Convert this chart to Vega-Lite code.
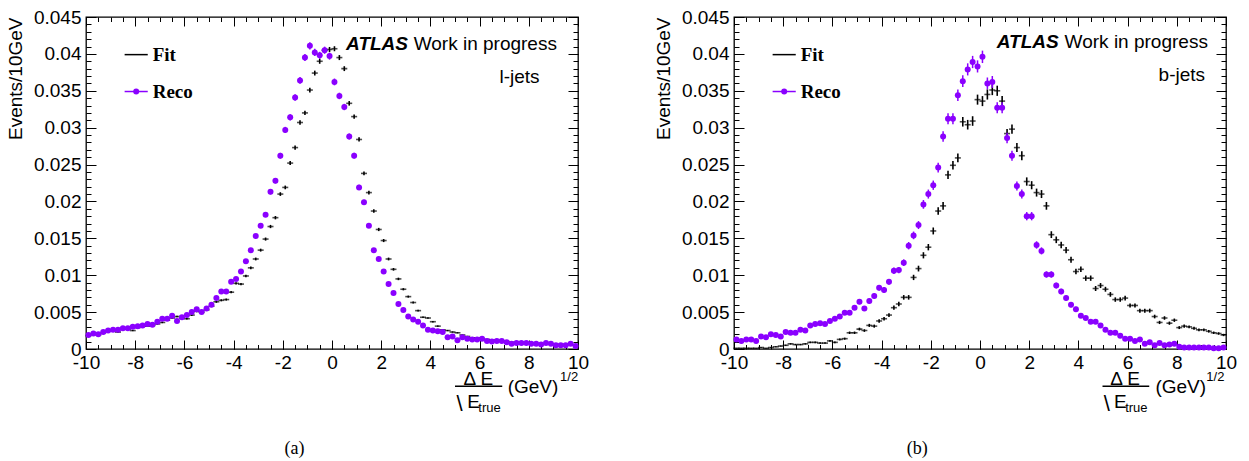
{
  "$schema": "https://vega.github.io/schema/vega-lite/v6.json",
  "background": "white",
  "padding": {"left": 5, "top": 7, "right": 5, "bottom": 0},
  "config": {
    "view": {"stroke": "black", "strokeWidth": 1.3},
    "axis": {"grid": false, "domain": false, "labelFont": "Liberation Sans", "labelFontSize": 19, "labelColor": "#000", "tickColor": "#000", "tickWidth": 1, "titleFont": "Liberation Sans", "titleFontSize": 19, "titleFontWeight": "normal", "titleColor": "#000"},
    "text": {"font": "Liberation Sans", "fontSize": 19, "color": "#000"}
  },
  "datasets": {
    "l": [
      {"x":-9.9,"f":0.0018,"fe":0.00007,"r":0.0019,"re":0.0001},
      {"x":-9.7,"f":0.0020,"fe":0.00008,"r":0.0021,"re":0.00011},
      {"x":-9.5,"f":0.0019,"fe":0.00007,"r":0.0020,"re":0.00011},
      {"x":-9.3,"f":0.0022,"fe":0.00008,"r":0.0023,"re":0.00012},
      {"x":-9.1,"f":0.0025,"fe":0.00008,"r":0.0025,"re":0.00012},
      {"x":-8.9,"f":0.0025,"fe":0.00008,"r":0.0026,"re":0.00012},
      {"x":-8.7,"f":0.0023,"fe":0.00008,"r":0.0026,"re":0.00012},
      {"x":-8.5,"f":0.0027,"fe":0.00009,"r":0.0028,"re":0.00013},
      {"x":-8.3,"f":0.0027,"fe":0.00009,"r":0.0028,"re":0.00013},
      {"x":-8.1,"f":0.0025,"fe":0.00008,"r":0.0030,"re":0.00013},
      {"x":-7.9,"f":0.0029,"fe":0.00009,"r":0.0031,"re":0.00013},
      {"x":-7.7,"f":0.0031,"fe":0.00009,"r":0.0032,"re":0.00014},
      {"x":-7.5,"f":0.0031,"fe":0.00009,"r":0.0034,"re":0.00014},
      {"x":-7.3,"f":0.0032,"fe":0.0001,"r":0.0033,"re":0.00014},
      {"x":-7.1,"f":0.0034,"fe":0.0001,"r":0.0037,"re":0.00015},
      {"x":-6.9,"f":0.0036,"fe":0.0001,"r":0.0041,"re":0.00015},
      {"x":-6.7,"f":0.0039,"fe":0.00011,"r":0.0041,"re":0.00015},
      {"x":-6.5,"f":0.0042,"fe":0.00011,"r":0.0045,"re":0.00016},
      {"x":-6.3,"f":0.0044,"fe":0.00011,"r":0.0038,"re":0.00015},
      {"x":-6.1,"f":0.0042,"fe":0.00011,"r":0.0043,"re":0.00016},
      {"x":-5.9,"f":0.0041,"fe":0.00011,"r":0.0046,"re":0.00016},
      {"x":-5.7,"f":0.0046,"fe":0.00012,"r":0.0050,"re":0.00017},
      {"x":-5.5,"f":0.0051,"fe":0.00012,"r":0.0054,"re":0.00018},
      {"x":-5.3,"f":0.0050,"fe":0.00012,"r":0.0050,"re":0.00017},
      {"x":-5.1,"f":0.0053,"fe":0.00012,"r":0.0055,"re":0.00018},
      {"x":-4.9,"f":0.0058,"fe":0.00013,"r":0.0060,"re":0.00019},
      {"x":-4.7,"f":0.0064,"fe":0.00014,"r":0.0069,"re":0.0002},
      {"x":-4.5,"f":0.0066,"fe":0.00014,"r":0.0078,"re":0.00021},
      {"x":-4.3,"f":0.0067,"fe":0.00014,"r":0.0078,"re":0.00021},
      {"x":-4.1,"f":0.0077,"fe":0.00015,"r":0.0091,"re":0.00023},
      {"x":-3.9,"f":0.0089,"fe":0.00016,"r":0.0095,"re":0.00023},
      {"x":-3.7,"f":0.0088,"fe":0.00016,"r":0.0105,"re":0.00025},
      {"x":-3.5,"f":0.0099,"fe":0.00017,"r":0.0119,"re":0.00026},
      {"x":-3.3,"f":0.0110,"fe":0.00018,"r":0.0134,"re":0.00028},
      {"x":-3.1,"f":0.0122,"fe":0.00019,"r":0.0153,"re":0.0003},
      {"x":-2.9,"f":0.0134,"fe":0.0002,"r":0.0167,"re":0.00031},
      {"x":-2.7,"f":0.0149,"fe":0.00021,"r":0.0182,"re":0.00032},
      {"x":-2.5,"f":0.0166,"fe":0.00022,"r":0.0213,"re":0.00035},
      {"x":-2.3,"f":0.0178,"fe":0.00023,"r":0.0228,"re":0.00036},
      {"x":-2.1,"f":0.0210,"fe":0.00025,"r":0.0262,"re":0.00039},
      {"x":-1.9,"f":0.0219,"fe":0.00025,"r":0.0297,"re":0.00041},
      {"x":-1.7,"f":0.0252,"fe":0.00027,"r":0.0314,"re":0.00043},
      {"x":-1.5,"f":0.0273,"fe":0.00028,"r":0.0341,"re":0.00044},
      {"x":-1.3,"f":0.0307,"fe":0.0003,"r":0.0364,"re":0.00046},
      {"x":-1.1,"f":0.0320,"fe":0.0003,"r":0.0395,"re":0.00048},
      {"x":-0.9,"f":0.0351,"fe":0.00032,"r":0.0411,"re":0.00049},
      {"x":-0.7,"f":0.0374,"fe":0.00033,"r":0.0402,"re":0.00048},
      {"x":-0.5,"f":0.0390,"fe":0.00034,"r":0.0398,"re":0.00048},
      {"x":-0.3,"f":0.0405,"fe":0.00034,"r":0.0405,"re":0.00048},
      {"x":-0.1,"f":0.0406,"fe":0.00034,"r":0.0397,"re":0.00048},
      {"x":0.1,"f":0.0407,"fe":0.00034,"r":0.0362,"re":0.00046},
      {"x":0.3,"f":0.0395,"fe":0.00034,"r":0.0343,"re":0.00044},
      {"x":0.5,"f":0.0380,"fe":0.00033,"r":0.0328,"re":0.00043},
      {"x":0.7,"f":0.0333,"fe":0.00031,"r":0.0288,"re":0.00041},
      {"x":0.9,"f":0.0315,"fe":0.0003,"r":0.0262,"re":0.00039},
      {"x":1.1,"f":0.0284,"fe":0.00029,"r":0.0219,"re":0.00036},
      {"x":1.3,"f":0.0238,"fe":0.00026,"r":0.0199,"re":0.00034},
      {"x":1.5,"f":0.0212,"fe":0.00025,"r":0.0167,"re":0.00031},
      {"x":1.7,"f":0.0187,"fe":0.00023,"r":0.0134,"re":0.00028},
      {"x":1.9,"f":0.0162,"fe":0.00022,"r":0.0122,"re":0.00027},
      {"x":2.1,"f":0.0147,"fe":0.00021,"r":0.0105,"re":0.00025},
      {"x":2.3,"f":0.0122,"fe":0.00019,"r":0.0088,"re":0.00023},
      {"x":2.5,"f":0.0108,"fe":0.00018,"r":0.0076,"re":0.00021},
      {"x":2.7,"f":0.0095,"fe":0.00017,"r":0.0061,"re":0.00019},
      {"x":2.9,"f":0.0081,"fe":0.00015,"r":0.0053,"re":0.00017},
      {"x":3.1,"f":0.0071,"fe":0.00014,"r":0.0044,"re":0.00016},
      {"x":3.3,"f":0.0063,"fe":0.00013,"r":0.0040,"re":0.00015},
      {"x":3.5,"f":0.0052,"fe":0.00012,"r":0.0037,"re":0.00015},
      {"x":3.7,"f":0.0043,"fe":0.00011,"r":0.0032,"re":0.00014},
      {"x":3.9,"f":0.0042,"fe":0.00011,"r":0.0026,"re":0.00012},
      {"x":4.1,"f":0.0037,"fe":0.0001,"r":0.0025,"re":0.00012},
      {"x":4.3,"f":0.0031,"fe":0.00009,"r":0.0024,"re":0.00012},
      {"x":4.5,"f":0.0026,"fe":0.00009,"r":0.0023,"re":0.00012},
      {"x":4.7,"f":0.0025,"fe":0.00008,"r":0.0016,"re":0.0001},
      {"x":4.9,"f":0.0023,"fe":0.00008,"r":0.0017,"re":0.0001},
      {"x":5.1,"f":0.0022,"fe":0.00008,"r":0.0012,"re":0.00008},
      {"x":5.3,"f":0.0019,"fe":0.00007,"r":0.0016,"re":0.0001},
      {"x":5.5,"f":0.0017,"fe":0.00007,"r":0.0014,"re":0.00009},
      {"x":5.7,"f":0.0015,"fe":0.00007,"r":0.0013,"re":0.00009},
      {"x":5.9,"f":0.0015,"fe":0.00007,"r":0.0013,"re":0.00009},
      {"x":6.1,"f":0.0014,"fe":0.00006,"r":0.0014,"re":0.00009},
      {"x":6.3,"f":0.0013,"fe":0.00006,"r":0.0011,"re":0.00008},
      {"x":6.5,"f":0.0012,"fe":0.00006,"r":0.0010,"re":0.00008},
      {"x":6.7,"f":0.0012,"fe":0.00006,"r":0.0011,"re":0.00008},
      {"x":6.9,"f":0.0011,"fe":0.00006,"r":0.0011,"re":0.00008},
      {"x":7.1,"f":0.0010,"fe":0.00005,"r":0.0009,"re":0.00007},
      {"x":7.3,"f":0.0009,"fe":0.00005,"r":0.0007,"re":0.00006},
      {"x":7.5,"f":0.0009,"fe":0.00005,"r":0.0008,"re":0.00007},
      {"x":7.7,"f":0.0009,"fe":0.00005,"r":0.0008,"re":0.00007},
      {"x":7.9,"f":0.0008,"fe":0.00005,"r":0.0008,"re":0.00007},
      {"x":8.1,"f":0.0008,"fe":0.00005,"r":0.0007,"re":0.00006},
      {"x":8.3,"f":0.0007,"fe":0.00004,"r":0.0007,"re":0.00006},
      {"x":8.5,"f":0.0007,"fe":0.00004,"r":0.0006,"re":0.00006},
      {"x":8.7,"f":0.0007,"fe":0.00004,"r":0.0008,"re":0.00007},
      {"x":8.9,"f":0.0007,"fe":0.00004,"r":0.0007,"re":0.00006},
      {"x":9.1,"f":0.0006,"fe":0.00004,"r":0.0005,"re":0.00005},
      {"x":9.3,"f":0.0006,"fe":0.00004,"r":0.0005,"re":0.00005},
      {"x":9.5,"f":0.0006,"fe":0.00004,"r":0.0005,"re":0.00005},
      {"x":9.7,"f":0.0006,"fe":0.00004,"r":0.0007,"re":0.00006},
      {"x":9.9,"f":0.0005,"fe":0.00004,"r":0.0004,"re":0.00005}
    ],
    "b": [
      {"x":-9.9,"f":0.0001,"fe":0.00004,"r":0.0013,"re":0.00015},
      {"x":-9.7,"f":0.0001,"fe":0.00004,"r":0.0011,"re":0.00014},
      {"x":-9.5,"f":0.0001,"fe":0.00004,"r":0.0013,"re":0.00015},
      {"x":-9.3,"f":0.0001,"fe":0.00004,"r":0.0013,"re":0.00015},
      {"x":-9.1,"f":0.0001,"fe":0.00004,"r":0.0011,"re":0.00014},
      {"x":-8.9,"f":0.0002,"fe":0.00005,"r":0.0017,"re":0.00017},
      {"x":-8.7,"f":0.0001,"fe":0.00004,"r":0.0016,"re":0.00017},
      {"x":-8.5,"f":0.0002,"fe":0.00005,"r":0.0020,"re":0.00019},
      {"x":-8.3,"f":0.0003,"fe":0.00006,"r":0.0019,"re":0.00018},
      {"x":-8.1,"f":0.0004,"fe":0.00007,"r":0.0017,"re":0.00017},
      {"x":-7.9,"f":0.0005,"fe":0.00008,"r":0.0023,"re":0.0002},
      {"x":-7.7,"f":0.0007,"fe":0.0001,"r":0.0022,"re":0.0002},
      {"x":-7.5,"f":0.0006,"fe":0.00009,"r":0.0022,"re":0.0002},
      {"x":-7.3,"f":0.0006,"fe":0.00009,"r":0.0026,"re":0.00021},
      {"x":-7.1,"f":0.0007,"fe":0.0001,"r":0.0025,"re":0.00021},
      {"x":-6.9,"f":0.0009,"fe":0.00011,"r":0.0032,"re":0.00024},
      {"x":-6.7,"f":0.0009,"fe":0.00011,"r":0.0034,"re":0.00024},
      {"x":-6.5,"f":0.0008,"fe":0.0001,"r":0.0035,"re":0.00025},
      {"x":-6.3,"f":0.0008,"fe":0.0001,"r":0.0034,"re":0.00024},
      {"x":-6.1,"f":0.0011,"fe":0.00012,"r":0.0038,"re":0.00026},
      {"x":-5.9,"f":0.0009,"fe":0.00011,"r":0.0041,"re":0.00027},
      {"x":-5.7,"f":0.0013,"fe":0.00013,"r":0.0044,"re":0.00028},
      {"x":-5.5,"f":0.0014,"fe":0.00014,"r":0.0049,"re":0.00029},
      {"x":-5.3,"f":0.0022,"fe":0.00017,"r":0.0049,"re":0.00029},
      {"x":-5.1,"f":0.0022,"fe":0.00017,"r":0.0056,"re":0.00031},
      {"x":-4.9,"f":0.0027,"fe":0.00019,"r":0.0064,"re":0.00034},
      {"x":-4.7,"f":0.0025,"fe":0.00018,"r":0.0055,"re":0.00031},
      {"x":-4.5,"f":0.0032,"fe":0.00021,"r":0.0065,"re":0.00034},
      {"x":-4.3,"f":0.0031,"fe":0.00021,"r":0.0072,"re":0.00036},
      {"x":-4.1,"f":0.0038,"fe":0.00023,"r":0.0083,"re":0.00038},
      {"x":-3.9,"f":0.0041,"fe":0.00024,"r":0.0080,"re":0.00038},
      {"x":-3.7,"f":0.0046,"fe":0.00025,"r":0.0091,"re":0.0004},
      {"x":-3.5,"f":0.0056,"fe":0.00028,"r":0.0106,"re":0.00043},
      {"x":-3.3,"f":0.0061,"fe":0.00029,"r":0.0107,"re":0.00043},
      {"x":-3.1,"f":0.0070,"fe":0.00031,"r":0.0117,"re":0.00045},
      {"x":-2.9,"f":0.0070,"fe":0.00031,"r":0.0140,"re":0.0005},
      {"x":-2.7,"f":0.0097,"fe":0.00036,"r":0.0154,"re":0.00052},
      {"x":-2.5,"f":0.0109,"fe":0.00039,"r":0.0168,"re":0.00054},
      {"x":-2.3,"f":0.0127,"fe":0.00042,"r":0.0196,"re":0.00059},
      {"x":-2.1,"f":0.0138,"fe":0.00043,"r":0.0210,"re":0.00061},
      {"x":-1.9,"f":0.0160,"fe":0.00047,"r":0.0222,"re":0.00063},
      {"x":-1.7,"f":0.0187,"fe":0.0005,"r":0.0246,"re":0.00066},
      {"x":-1.5,"f":0.0194,"fe":0.00052,"r":0.0288,"re":0.00071},
      {"x":-1.3,"f":0.0236,"fe":0.00057,"r":0.0312,"re":0.00074},
      {"x":-1.1,"f":0.0249,"fe":0.00058,"r":0.0312,"re":0.00074},
      {"x":-0.9,"f":0.0259,"fe":0.0006,"r":0.0344,"re":0.00078},
      {"x":-0.7,"f":0.0308,"fe":0.00065,"r":0.0363,"re":0.0008},
      {"x":-0.5,"f":0.0304,"fe":0.00065,"r":0.0379,"re":0.00082},
      {"x":-0.3,"f":0.0309,"fe":0.00065,"r":0.0389,"re":0.00083},
      {"x":-0.1,"f":0.0338,"fe":0.00068,"r":0.0383,"re":0.00082},
      {"x":0.1,"f":0.0336,"fe":0.00068,"r":0.0396,"re":0.00084},
      {"x":0.3,"f":0.0345,"fe":0.00069,"r":0.0360,"re":0.0008},
      {"x":0.5,"f":0.0351,"fe":0.00069,"r":0.0362,"re":0.0008},
      {"x":0.7,"f":0.0350,"fe":0.00069,"r":0.0327,"re":0.00076},
      {"x":0.9,"f":0.0336,"fe":0.00068,"r":0.0327,"re":0.00076},
      {"x":1.1,"f":0.0292,"fe":0.00063,"r":0.0286,"re":0.00071},
      {"x":1.3,"f":0.0298,"fe":0.00064,"r":0.0262,"re":0.00068},
      {"x":1.5,"f":0.0273,"fe":0.00061,"r":0.0221,"re":0.00062},
      {"x":1.7,"f":0.0262,"fe":0.0006,"r":0.0210,"re":0.00061},
      {"x":1.9,"f":0.0227,"fe":0.00056,"r":0.0180,"re":0.00056},
      {"x":2.1,"f":0.0222,"fe":0.00055,"r":0.0180,"re":0.00056},
      {"x":2.3,"f":0.0212,"fe":0.00054,"r":0.0141,"re":0.0005},
      {"x":2.5,"f":0.0210,"fe":0.00054,"r":0.0133,"re":0.00048},
      {"x":2.7,"f":0.0194,"fe":0.00052,"r":0.0101,"re":0.00042},
      {"x":2.9,"f":0.0155,"fe":0.00046,"r":0.0101,"re":0.00042},
      {"x":3.1,"f":0.0148,"fe":0.00045,"r":0.0086,"re":0.00039},
      {"x":3.3,"f":0.0141,"fe":0.00044,"r":0.0078,"re":0.00037},
      {"x":3.5,"f":0.0134,"fe":0.00043,"r":0.0069,"re":0.00035},
      {"x":3.7,"f":0.0121,"fe":0.00041,"r":0.0060,"re":0.00033},
      {"x":3.9,"f":0.0105,"fe":0.00038,"r":0.0054,"re":0.00031},
      {"x":4.1,"f":0.0108,"fe":0.00038,"r":0.0045,"re":0.00028},
      {"x":4.3,"f":0.0096,"fe":0.00036,"r":0.0042,"re":0.00027},
      {"x":4.5,"f":0.0096,"fe":0.00036,"r":0.0037,"re":0.00026},
      {"x":4.7,"f":0.0082,"fe":0.00034,"r":0.0037,"re":0.00026},
      {"x":4.9,"f":0.0086,"fe":0.00034,"r":0.0032,"re":0.00024},
      {"x":5.1,"f":0.0081,"fe":0.00033,"r":0.0026,"re":0.00021},
      {"x":5.3,"f":0.0074,"fe":0.00032,"r":0.0022,"re":0.0002},
      {"x":5.5,"f":0.0067,"fe":0.0003,"r":0.0022,"re":0.0002},
      {"x":5.7,"f":0.0067,"fe":0.0003,"r":0.0018,"re":0.00018},
      {"x":5.9,"f":0.0069,"fe":0.00031,"r":0.0014,"re":0.00016},
      {"x":6.1,"f":0.0059,"fe":0.00028,"r":0.0014,"re":0.00016},
      {"x":6.3,"f":0.0059,"fe":0.00028,"r":0.0011,"re":0.00014},
      {"x":6.5,"f":0.0052,"fe":0.00027,"r":0.0013,"re":0.00015},
      {"x":6.7,"f":0.0052,"fe":0.00027,"r":0.0007,"re":0.00011},
      {"x":6.9,"f":0.0052,"fe":0.00027,"r":0.0009,"re":0.00013},
      {"x":7.1,"f":0.0044,"fe":0.00025,"r":0.0005,"re":0.00009},
      {"x":7.3,"f":0.0036,"fe":0.00022,"r":0.0008,"re":0.00012},
      {"x":7.5,"f":0.0042,"fe":0.00024,"r":0.0005,"re":0.00009},
      {"x":7.7,"f":0.0035,"fe":0.00022,"r":0.0006,"re":0.0001},
      {"x":7.9,"f":0.0039,"fe":0.00023,"r":0.0007,"re":0.00011},
      {"x":8.1,"f":0.0029,"fe":0.0002,"r":0.0003,"re":0.00007},
      {"x":8.3,"f":0.0031,"fe":0.00021,"r":0.0002,"re":0.00006},
      {"x":8.5,"f":0.0030,"fe":0.0002,"r":0.0002,"re":0.00006},
      {"x":8.7,"f":0.0028,"fe":0.0002,"r":0.0002,"re":0.00006},
      {"x":8.9,"f":0.0026,"fe":0.00019,"r":0.0002,"re":0.00006},
      {"x":9.1,"f":0.0026,"fe":0.00019,"r":0.0002,"re":0.00006},
      {"x":9.3,"f":0.0024,"fe":0.00018,"r":0.0002,"re":0.00006},
      {"x":9.5,"f":0.0022,"fe":0.00017,"r":0.0001,"re":0.00004},
      {"x":9.7,"f":0.0021,"fe":0.00017,"r":0.0001,"re":0.00004},
      {"x":9.9,"f":0.0019,"fe":0.00016,"r":0.0002,"re":0.00006}
    ]
  },
  "spacing": 156,
  "bounds": "flush",
  "hconcat": [
    {
      "width": 492, "height": 332,
      "resolve": {"axis": {"x": "independent", "y": "independent"}},
      "layer": [
        {"data": {"name": "l"}, "mark": {"type": "tick", "orient": "horizontal", "size": 6, "thickness": 1.6, "color": "#000"},
         "encoding": {
           "x": {"field": "x", "type": "quantitative", "scale": {"domain": [-10, 10], "nice": false, "zero": false}, "axis": {"orient": "bottom", "values": [-10,-8,-6,-4,-2,0,2,4,6,8,10], "labels": false, "ticks": true, "tickSize": -9, "title": null}},
           "y": {"field": "f", "type": "quantitative", "scale": {"domain": [0, 0.045], "nice": false, "zero": false}, "axis": {"orient": "left", "values": [0,0.005,0.01,0.015,0.02,0.025,0.03,0.035,0.04,0.045], "labels": false, "ticks": true, "tickSize": -10, "title": null}}}},
        {"data": {"name": "l"}, "mark": {"type": "errorbar", "color": "#000", "thickness": 1.6},
         "encoding": {"x": {"field": "x", "type": "quantitative", "axis": null}, "y": {"field": "f", "type": "quantitative", "axis": null}, "yError": {"field": "fe"}}},
        {"data": {"name": "l"}, "mark": {"type": "errorbar", "color": "#8a00ff", "thickness": 1.5},
         "encoding": {"x": {"field": "x", "type": "quantitative", "axis": null}, "y": {"field": "r", "type": "quantitative", "axis": null}, "yError": {"field": "re"}}},
        {"data": {"name": "l"}, "mark": {"type": "circle", "color": "#8a00ff", "size": 36, "opacity": 1},
         "encoding": {
           "x": {"field": "x", "type": "quantitative", "axis": {"orient": "bottom", "values": [-10,-8,-6,-4,-2,0,2,4,6,8,10], "ticks": false, "labelPadding": 4, "labelFlush": false, "labelOverlap": false, "labelExpr": "'' + datum.value", "title": null}},
           "y": {"field": "r", "type": "quantitative", "axis": {"orient": "left", "values": [0,0.005,0.01,0.015,0.02,0.025,0.03,0.035,0.04,0.045], "ticks": false, "labelPadding": 5, "labelFlush": false, "labelOverlap": false, "labelExpr": "'' + datum.value", "title": "Events/10GeV", "titleAnchor": "end", "titlePadding": 8}}}},
        {"data": {"values": [{}]}, "mark": {"type": "rule", "color": "#000", "strokeWidth": 1.5},
         "encoding": {
           "x": {"datum": -8.43, "type": "quantitative", "axis": {"orient": "bottom", "values": [-10,-9.5,-9,-8.5,-8,-7.5,-7,-6.5,-6,-5.5,-5,-4.5,-4,-3.5,-3,-2.5,-2,-1.5,-1,-0.5,0,0.5,1,1.5,2,2.5,3,3.5,4,4.5,5,5.5,6,6.5,7,7.5,8,8.5,9,9.5,10], "labels": false, "ticks": true, "tickSize": -4.5, "title": null}},
           "x2": {"datum": -7.49},
           "y": {"datum": 0.0399, "type": "quantitative", "axis": {"orient": "left", "values": [0,0.001,0.002,0.003,0.004,0.005,0.006,0.007,0.008,0.009,0.01,0.011,0.012,0.013,0.014,0.015,0.016,0.017,0.018,0.019,0.02,0.021,0.022,0.023,0.024,0.025,0.026,0.027,0.028,0.029,0.03,0.031,0.032,0.033,0.034,0.035,0.036,0.037,0.038,0.039,0.04,0.041,0.042,0.043,0.044,0.045], "labels": false, "ticks": true, "tickSize": -5, "title": null}}}},
        {"data": {"values": [{}]}, "mark": {"type": "rule", "color": "#8a00ff", "strokeWidth": 1.5},
         "encoding": {
           "x": {"datum": -8.43, "type": "quantitative", "axis": {"orient": "top", "values": [-10,-8,-6,-4,-2,0,2,4,6,8,10], "labels": false, "ticks": true, "tickSize": -9, "title": null}},
           "x2": {"datum": -7.49},
           "y": {"datum": 0.0349, "type": "quantitative", "axis": {"orient": "right", "values": [0,0.005,0.01,0.015,0.02,0.025,0.03,0.035,0.04,0.045], "labels": false, "ticks": true, "tickSize": -10, "title": null}}}},
        {"data": {"values": [{}]}, "mark": {"type": "circle", "color": "#8a00ff", "size": 36, "opacity": 1},
         "encoding": {
           "x": {"datum": -7.96, "type": "quantitative", "axis": {"orient": "top", "values": [-10,-9.5,-9,-8.5,-8,-7.5,-7,-6.5,-6,-5.5,-5,-4.5,-4,-3.5,-3,-2.5,-2,-1.5,-1,-0.5,0,0.5,1,1.5,2,2.5,3,3.5,4,4.5,5,5.5,6,6.5,7,7.5,8,8.5,9,9.5,10], "labels": false, "ticks": true, "tickSize": -4.5, "title": null}},
           "y": {"datum": 0.0349, "type": "quantitative", "axis": {"orient": "right", "values": [0,0.001,0.002,0.003,0.004,0.005,0.006,0.007,0.008,0.009,0.01,0.011,0.012,0.013,0.014,0.015,0.016,0.017,0.018,0.019,0.02,0.021,0.022,0.023,0.024,0.025,0.026,0.027,0.028,0.029,0.03,0.031,0.032,0.033,0.034,0.035,0.036,0.037,0.038,0.039,0.04,0.041,0.042,0.043,0.044,0.045], "labels": false, "ticks": true, "tickSize": -5, "title": null}}}},
        {"data": {"values": [{}]}, "mark": {"type": "text", "text": "Fit", "align": "left", "baseline": "middle", "font": "Liberation Serif", "fontWeight": "bold", "fontSize": 19},
         "encoding": {"x": {"datum": -7.29, "type": "quantitative", "axis": null}, "y": {"datum": 0.0399, "type": "quantitative", "axis": null}}},
        {"data": {"values": [{}]}, "mark": {"type": "text", "text": "Reco", "align": "left", "baseline": "middle", "font": "Liberation Serif", "fontWeight": "bold", "fontSize": 19},
         "encoding": {"x": {"datum": -7.29, "type": "quantitative", "axis": null}, "y": {"datum": 0.0349, "type": "quantitative", "axis": null}}},
        {"data": {"values": [{}]}, "mark": {"type": "text", "text": "ATLAS", "align": "right", "baseline": "middle", "fontWeight": "bold", "fontStyle": "italic"},
         "encoding": {"x": {"datum": 3.09, "type": "quantitative", "axis": null}, "y": {"datum": 0.0413, "type": "quantitative", "axis": null}}},
        {"data": {"values": [{}]}, "mark": {"type": "text", "text": "Work in progress", "align": "left", "baseline": "middle"},
         "encoding": {"x": {"datum": 3.32, "type": "quantitative", "axis": null}, "y": {"datum": 0.0413, "type": "quantitative", "axis": null}}},
        {"data": {"values": [{}]}, "mark": {"type": "text", "text": "l-jets", "align": "right", "baseline": "middle"},
         "encoding": {"x": {"datum": 8.44, "type": "quantitative", "axis": null}, "y": {"datum": 0.0368, "type": "quantitative", "axis": null}}},
        {"data": {"values": [{}]}, "mark": {"type": "text", "text": "Δ E", "align": "center", "baseline": "middle"},
         "encoding": {"x": {"datum": 5.95, "type": "quantitative", "axis": null}, "y": {"datum": -0.0041, "type": "quantitative", "axis": null}}},
        {"data": {"values": [{}]}, "mark": {"type": "rule", "color": "#000", "strokeWidth": 1.5},
         "encoding": {"x": {"datum": 5.0, "type": "quantitative", "axis": null}, "x2": {"datum": 6.92}, "y": {"datum": -0.00505, "type": "quantitative", "axis": null}}},
        {"data": {"values": [{}]}, "mark": {"type": "text", "text": "\\", "align": "center", "baseline": "middle", "fontSize": 22},
         "encoding": {"x": {"datum": 5.19, "type": "quantitative", "axis": null}, "y": {"datum": -0.0074, "type": "quantitative", "axis": null}}},
        {"data": {"values": [{}]}, "mark": {"type": "text", "text": "E", "align": "left", "baseline": "middle"},
         "encoding": {"x": {"datum": 5.5, "type": "quantitative", "axis": null}, "y": {"datum": -0.0072, "type": "quantitative", "axis": null}}},
        {"data": {"values": [{}]}, "mark": {"type": "text", "text": "true", "align": "left", "baseline": "middle", "fontSize": 13},
         "encoding": {"x": {"datum": 5.95, "type": "quantitative", "axis": null}, "y": {"datum": -0.008, "type": "quantitative", "axis": null}}},
        {"data": {"values": [{}]}, "mark": {"type": "text", "text": "(GeV)", "align": "left", "baseline": "middle"},
         "encoding": {"x": {"datum": 7.14, "type": "quantitative", "axis": null}, "y": {"datum": -0.0052, "type": "quantitative", "axis": null}}},
        {"data": {"values": [{}]}, "mark": {"type": "text", "text": "1/2", "align": "left", "baseline": "middle", "fontSize": 13},
         "encoding": {"x": {"datum": 9.27, "type": "quantitative", "axis": null}, "y": {"datum": -0.0038, "type": "quantitative", "axis": null}}},
        {"data": {"values": [{}]}, "mark": {"type": "text", "text": "(a)", "align": "center", "baseline": "middle", "font": "Liberation Serif", "fontSize": 18},
         "encoding": {"x": {"datum": -1.52, "type": "quantitative", "axis": null}, "y": {"datum": -0.0136, "type": "quantitative", "axis": null}}}
      ]
    },
    {
      "width": 492, "height": 332,
      "resolve": {"axis": {"x": "independent", "y": "independent"}},
      "layer": [
        {"data": {"name": "b"}, "mark": {"type": "tick", "orient": "horizontal", "size": 6, "thickness": 1.6, "color": "#000"},
         "encoding": {
           "x": {"field": "x", "type": "quantitative", "scale": {"domain": [-10, 10], "nice": false, "zero": false}, "axis": {"orient": "bottom", "values": [-10,-8,-6,-4,-2,0,2,4,6,8,10], "labels": false, "ticks": true, "tickSize": -9, "title": null}},
           "y": {"field": "f", "type": "quantitative", "scale": {"domain": [0, 0.045], "nice": false, "zero": false}, "axis": {"orient": "left", "values": [0,0.005,0.01,0.015,0.02,0.025,0.03,0.035,0.04,0.045], "labels": false, "ticks": true, "tickSize": -10, "title": null}}}},
        {"data": {"name": "b"}, "mark": {"type": "errorbar", "color": "#000", "thickness": 1.6},
         "encoding": {"x": {"field": "x", "type": "quantitative", "axis": null}, "y": {"field": "f", "type": "quantitative", "axis": null}, "yError": {"field": "fe"}}},
        {"data": {"name": "b"}, "mark": {"type": "errorbar", "color": "#8a00ff", "thickness": 1.5},
         "encoding": {"x": {"field": "x", "type": "quantitative", "axis": null}, "y": {"field": "r", "type": "quantitative", "axis": null}, "yError": {"field": "re"}}},
        {"data": {"name": "b"}, "mark": {"type": "circle", "color": "#8a00ff", "size": 36, "opacity": 1},
         "encoding": {
           "x": {"field": "x", "type": "quantitative", "axis": {"orient": "bottom", "values": [-10,-8,-6,-4,-2,0,2,4,6,8,10], "ticks": false, "labelPadding": 4, "labelFlush": false, "labelOverlap": false, "labelExpr": "'' + datum.value", "title": null}},
           "y": {"field": "r", "type": "quantitative", "axis": {"orient": "left", "values": [0,0.005,0.01,0.015,0.02,0.025,0.03,0.035,0.04,0.045], "ticks": false, "labelPadding": 5, "labelFlush": false, "labelOverlap": false, "labelExpr": "'' + datum.value", "title": "Events/10GeV", "titleAnchor": "end", "titlePadding": 8}}}},
        {"data": {"values": [{}]}, "mark": {"type": "rule", "color": "#000", "strokeWidth": 1.5},
         "encoding": {
           "x": {"datum": -8.43, "type": "quantitative", "axis": {"orient": "bottom", "values": [-10,-9.5,-9,-8.5,-8,-7.5,-7,-6.5,-6,-5.5,-5,-4.5,-4,-3.5,-3,-2.5,-2,-1.5,-1,-0.5,0,0.5,1,1.5,2,2.5,3,3.5,4,4.5,5,5.5,6,6.5,7,7.5,8,8.5,9,9.5,10], "labels": false, "ticks": true, "tickSize": -4.5, "title": null}},
           "x2": {"datum": -7.49},
           "y": {"datum": 0.0399, "type": "quantitative", "axis": {"orient": "left", "values": [0,0.001,0.002,0.003,0.004,0.005,0.006,0.007,0.008,0.009,0.01,0.011,0.012,0.013,0.014,0.015,0.016,0.017,0.018,0.019,0.02,0.021,0.022,0.023,0.024,0.025,0.026,0.027,0.028,0.029,0.03,0.031,0.032,0.033,0.034,0.035,0.036,0.037,0.038,0.039,0.04,0.041,0.042,0.043,0.044,0.045], "labels": false, "ticks": true, "tickSize": -5, "title": null}}}},
        {"data": {"values": [{}]}, "mark": {"type": "rule", "color": "#8a00ff", "strokeWidth": 1.5},
         "encoding": {
           "x": {"datum": -8.43, "type": "quantitative", "axis": {"orient": "top", "values": [-10,-8,-6,-4,-2,0,2,4,6,8,10], "labels": false, "ticks": true, "tickSize": -9, "title": null}},
           "x2": {"datum": -7.49},
           "y": {"datum": 0.0349, "type": "quantitative", "axis": {"orient": "right", "values": [0,0.005,0.01,0.015,0.02,0.025,0.03,0.035,0.04,0.045], "labels": false, "ticks": true, "tickSize": -10, "title": null}}}},
        {"data": {"values": [{}]}, "mark": {"type": "circle", "color": "#8a00ff", "size": 36, "opacity": 1},
         "encoding": {
           "x": {"datum": -7.96, "type": "quantitative", "axis": {"orient": "top", "values": [-10,-9.5,-9,-8.5,-8,-7.5,-7,-6.5,-6,-5.5,-5,-4.5,-4,-3.5,-3,-2.5,-2,-1.5,-1,-0.5,0,0.5,1,1.5,2,2.5,3,3.5,4,4.5,5,5.5,6,6.5,7,7.5,8,8.5,9,9.5,10], "labels": false, "ticks": true, "tickSize": -4.5, "title": null}},
           "y": {"datum": 0.0349, "type": "quantitative", "axis": {"orient": "right", "values": [0,0.001,0.002,0.003,0.004,0.005,0.006,0.007,0.008,0.009,0.01,0.011,0.012,0.013,0.014,0.015,0.016,0.017,0.018,0.019,0.02,0.021,0.022,0.023,0.024,0.025,0.026,0.027,0.028,0.029,0.03,0.031,0.032,0.033,0.034,0.035,0.036,0.037,0.038,0.039,0.04,0.041,0.042,0.043,0.044,0.045], "labels": false, "ticks": true, "tickSize": -5, "title": null}}}},
        {"data": {"values": [{}]}, "mark": {"type": "text", "text": "Fit", "align": "left", "baseline": "middle", "font": "Liberation Serif", "fontWeight": "bold", "fontSize": 19},
         "encoding": {"x": {"datum": -7.29, "type": "quantitative", "axis": null}, "y": {"datum": 0.0399, "type": "quantitative", "axis": null}}},
        {"data": {"values": [{}]}, "mark": {"type": "text", "text": "Reco", "align": "left", "baseline": "middle", "font": "Liberation Serif", "fontWeight": "bold", "fontSize": 19},
         "encoding": {"x": {"datum": -7.29, "type": "quantitative", "axis": null}, "y": {"datum": 0.0349, "type": "quantitative", "axis": null}}},
        {"data": {"values": [{}]}, "mark": {"type": "text", "text": "ATLAS", "align": "right", "baseline": "middle", "fontWeight": "bold", "fontStyle": "italic"},
         "encoding": {"x": {"datum": 3.2, "type": "quantitative", "axis": null}, "y": {"datum": 0.0416, "type": "quantitative", "axis": null}}},
        {"data": {"values": [{}]}, "mark": {"type": "text", "text": "Work in progress", "align": "left", "baseline": "middle"},
         "encoding": {"x": {"datum": 3.44, "type": "quantitative", "axis": null}, "y": {"datum": 0.0416, "type": "quantitative", "axis": null}}},
        {"data": {"values": [{}]}, "mark": {"type": "text", "text": "b-jets", "align": "right", "baseline": "middle"},
         "encoding": {"x": {"datum": 9.15, "type": "quantitative", "axis": null}, "y": {"datum": 0.0371, "type": "quantitative", "axis": null}}},
        {"data": {"values": [{}]}, "mark": {"type": "text", "text": "Δ E", "align": "center", "baseline": "middle"},
         "encoding": {"x": {"datum": 5.9, "type": "quantitative", "axis": null}, "y": {"datum": -0.0041, "type": "quantitative", "axis": null}}},
        {"data": {"values": [{}]}, "mark": {"type": "rule", "color": "#000", "strokeWidth": 1.5},
         "encoding": {"x": {"datum": 4.98, "type": "quantitative", "axis": null}, "x2": {"datum": 6.88}, "y": {"datum": -0.00505, "type": "quantitative", "axis": null}}},
        {"data": {"values": [{}]}, "mark": {"type": "text", "text": "\\", "align": "center", "baseline": "middle", "fontSize": 22},
         "encoding": {"x": {"datum": 5.15, "type": "quantitative", "axis": null}, "y": {"datum": -0.0074, "type": "quantitative", "axis": null}}},
        {"data": {"values": [{}]}, "mark": {"type": "text", "text": "E", "align": "left", "baseline": "middle"},
         "encoding": {"x": {"datum": 5.45, "type": "quantitative", "axis": null}, "y": {"datum": -0.0072, "type": "quantitative", "axis": null}}},
        {"data": {"values": [{}]}, "mark": {"type": "text", "text": "true", "align": "left", "baseline": "middle", "fontSize": 13},
         "encoding": {"x": {"datum": 5.9, "type": "quantitative", "axis": null}, "y": {"datum": -0.008, "type": "quantitative", "axis": null}}},
        {"data": {"values": [{}]}, "mark": {"type": "text", "text": "(GeV)", "align": "left", "baseline": "middle"},
         "encoding": {"x": {"datum": 7.13, "type": "quantitative", "axis": null}, "y": {"datum": -0.0052, "type": "quantitative", "axis": null}}},
        {"data": {"values": [{}]}, "mark": {"type": "text", "text": "1/2", "align": "left", "baseline": "middle", "fontSize": 13},
         "encoding": {"x": {"datum": 9.2, "type": "quantitative", "axis": null}, "y": {"datum": -0.0038, "type": "quantitative", "axis": null}}},
        {"data": {"values": [{}]}, "mark": {"type": "text", "text": "(b)", "align": "center", "baseline": "middle", "font": "Liberation Serif", "fontSize": 18},
         "encoding": {"x": {"datum": -2.55, "type": "quantitative", "axis": null}, "y": {"datum": -0.0136, "type": "quantitative", "axis": null}}}
      ]
    }
  ]
}
